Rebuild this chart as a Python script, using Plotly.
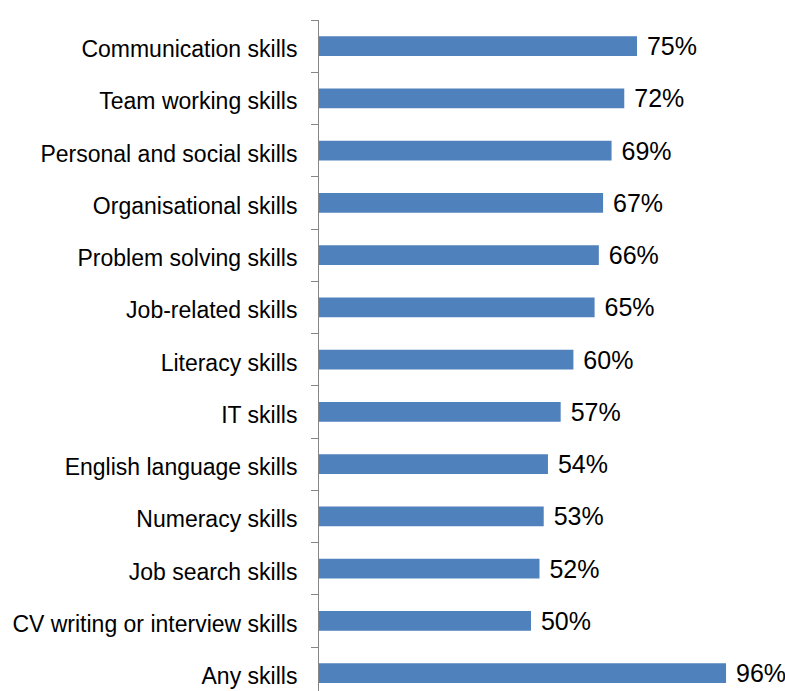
import plotly.graph_objects as go

skills = [
    "Communication skills",
    "Team working skills",
    "Personal and social skills",
    "Organisational skills",
    "Problem solving skills",
    "Job-related skills",
    "Literacy skills",
    "IT skills",
    "English language skills",
    "Numeracy skills",
    "Job search skills",
    "CV writing or interview skills",
    "Any skills",
]
shares = [75, 72, 69, 67, 66, 65, 60, 57, 54, 53, 52, 50, 96]

FONT = "Liberation Sans, Arial, sans-serif"

fig = go.Figure(
    go.Bar(
        x=shares,
        y=skills,
        orientation="h",
        width=0.38,
        marker=dict(color="#4F81BD", line=dict(width=0)),
        text=[f" {v}%" for v in shares],
        textposition="outside",
        constraintext="none",
        textfont=dict(family=FONT, size=25, color="#000000"),
        cliponaxis=False,
    )
)

fig.update_layout(
    width=785,
    height=691,
    margin=dict(l=319, r=42, t=20, b=0),
    plot_bgcolor="white",
    paper_bgcolor="white",
    showlegend=False,
    bargap=0.62,
    xaxis=dict(range=[0, 100], visible=False, fixedrange=True),
    yaxis=dict(
        type="category",
        categoryorder="array",
        categoryarray=skills,
        range=[12.342, -0.5],
        showline=True,
        linecolor="#868686",
        linewidth=1,
        ticks="outside",
        tickson="boundaries",
        ticklen=7,
        tickcolor="#868686",
        tickwidth=1,
        ticklabelstandoff=16,
        ticklabelshift=-3,
        tickfont=dict(family=FONT, size=23, color="#000000"),
        showgrid=False,
        zeroline=False,
    ),
)

fig.write_html("out.html")
